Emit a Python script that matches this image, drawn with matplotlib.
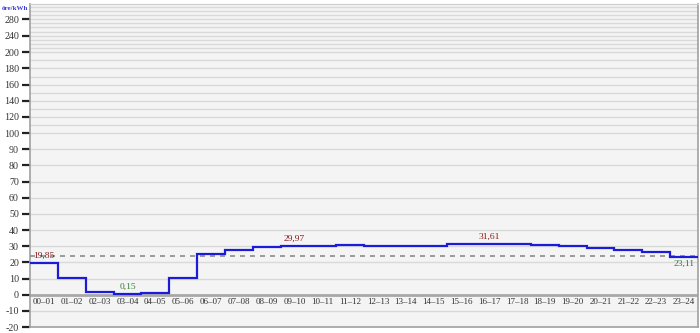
import matplotlib.pyplot as plt
import numpy as np

# hourly price, öre/kWh
hours = ['00–01', '01–02', '02–03', '03–04', '04–05', '05–06', '06–07', '07–08',
         '08–09', '09–10', '10–11', '11–12', '12–13', '13–14', '14–15', '15–16',
         '16–17', '17–18', '18–19', '19–20', '20–21', '21–22', '22–23', '23–24']
prices = [19.85, 10.2, 1.4, 0.15, 0.8, 10.2, 25.4, 27.6,
          29.4, 29.97, 29.9, 30.5, 29.9, 29.9, 30.3, 31.1,
          31.61, 31.5, 30.5, 30.1, 28.9, 27.6, 26.6, 23.11]
avg_price = 23.9
yticks = [-20, -10, 0, 10, 20, 30, 40, 50, 60, 70, 80, 90, 100,
          120, 140, 160, 180, 200, 240, 280]
# annotated points: (hour index, text, colour, above line?)
notes = [(0, '19,85', '#8b1a1a', True), (3, '0,15', '#2e7d32', True),
         (9, '29,97', '#8b1a1a', True), (16, '31,61', '#8b1a1a', True),
         (23, '23,11', '#2e7d32', False)]

# piecewise linear y scale (compressed above 100 and 200)
yv = [-1000, -20, 100, 200, 1000]
yp = [-1584.7, 0, 194, 275, 605]
def fwd(v):
    return np.interp(v, yv, yp)
def inv(p):
    return np.interp(p, yp, yv)

plt.rcParams['font.family'] = 'Liberation Serif'

fig = plt.figure(figsize=(7, 3.33), dpi=100)
ax = fig.add_axes([0.043, 0.018, 0.954, 0.970])
ax.set_facecolor('#f4f4f4')
ax.set_yscale('function', functions=(fwd, inv))
ax.set_ylim(-20, 317)
ax.set_xlim(-0.5, 23.5)

for g in range(-10, 320, 10):
    if g == 0:
        continue
    ax.axhline(g, color='#d9d9d9', lw=1, zorder=1)
ax.axhline(0, color='#a8a8a8', lw=2, zorder=2)
ax.axhline(avg_price, color='#8c8c8c', lw=1.2, ls=(0, (3, 3)), zorder=3)

ax.stairs(prices, np.arange(len(prices) + 1) - 0.5, baseline=None,
          color='#1c1cd8', lw=1.6, zorder=4)

for i, h in enumerate(hours):
    ax.text(i, -4.3, h, ha='center', va='center', fontsize=6.5, color='#333333')

for i, txt, col, above in notes:
    if above:
        ax.text(i, prices[i] + 2.0, txt, ha='center', va='bottom', fontsize=6.8, color=col, zorder=5)
    else:
        ax.text(i, prices[i] - 1.5, txt, ha='center', va='top', fontsize=6.8, color=col, zorder=5)

ax.set_yticks(yticks)
ax.set_yticklabels([str(t) for t in yticks])
ax.yaxis.set_minor_locator(plt.NullLocator())
ax.set_xticks([])
ax.tick_params(axis='y', length=6, width=1.6, color='#222222', labelsize=7.2, labelcolor='#333333', pad=2)

for s in ['left', 'bottom', 'right']:
    ax.spines[s].set_color('#a0a0a0')
    ax.spines[s].set_linewidth(1.2)
ax.spines['top'].set_color('#cccccc')

fig.text(0.003, 0.975, 'öre/kWh', fontsize=5, color='#3a3ad0', fontweight='bold', ha='left', va='center')

plt.savefig('out.png')
